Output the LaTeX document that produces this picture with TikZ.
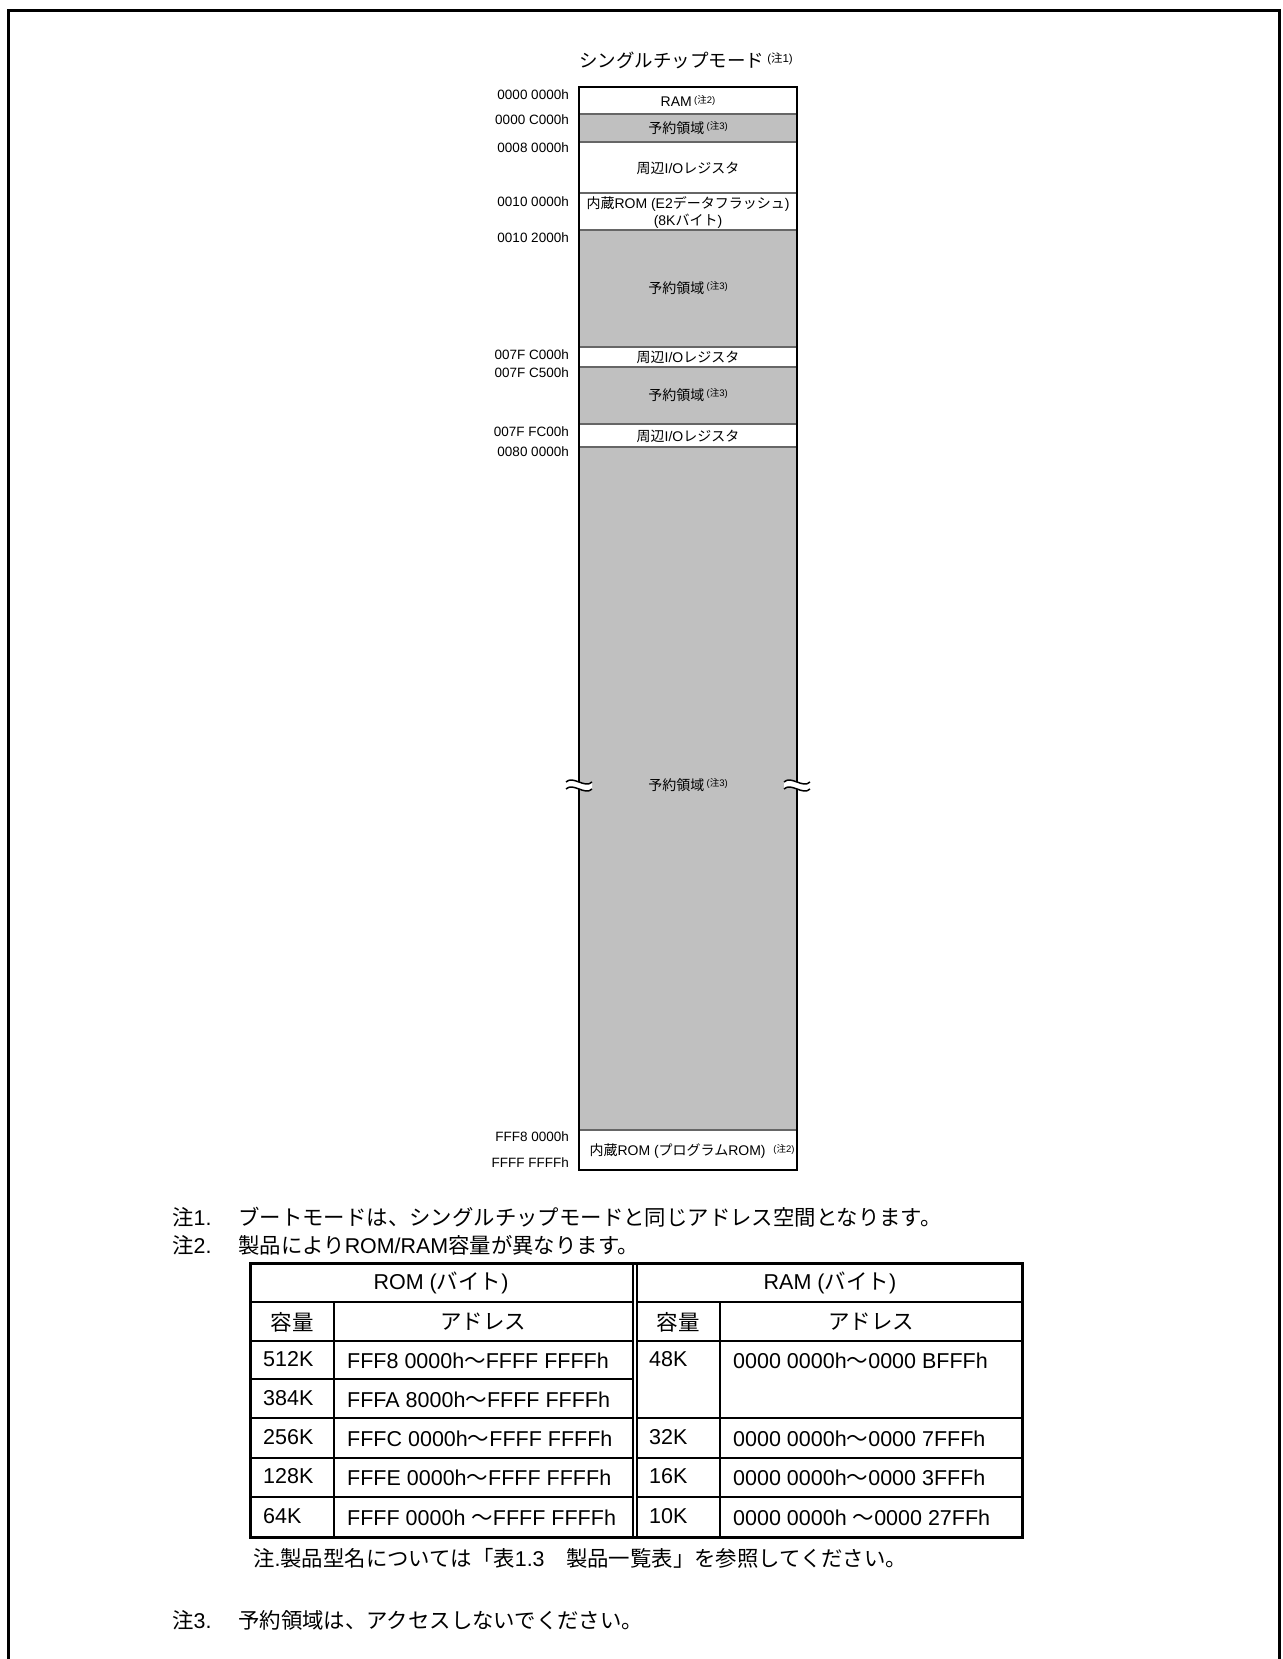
\documentclass[tikz,border=0pt]{standalone}
\usepackage{fontspec}
\setmainfont{Liberation Sans}
\newfontfamily\jpfont{Noto Sans CJK JP}
\newfontfamily\latfont{Liberation Sans}
\XeTeXinterchartokenstate=1
\chardef\cjkcls=200
\newcount\cjkc
\def\setclassrange#1#2#3{\cjkc=#1\relax
  \loop\XeTeXcharclass\cjkc=#3\relax
  \ifnum\cjkc<#2\relax\advance\cjkc by 1\relax\repeat}
\setclassrange{33}{126}{0}
\setclassrange{"3000}{"30FF}{\cjkcls}
\setclassrange{"4E00}{"9FFF}{\cjkcls}
\setclassrange{"FF00}{"FFEF}{\cjkcls}
\XeTeXinterchartoks 0 \cjkcls = {\jpfont}
\XeTeXinterchartoks 4095 \cjkcls = {\jpfont}
\XeTeXinterchartoks \cjkcls 0 = {\latfont}
\XeTeXinterchartoks \cjkcls 4095 = {\latfont}
\newcommand\chu[2][9.5]{\raisebox{0.45ex}{\latfont\fontsize{#1}{#1}\selectfont(注#2)}}
\definecolor{resv}{RGB}{192,192,192}
\begin{document}
\begin{tikzpicture}[x=1pt,y=-1pt,
  lbl/.style={anchor=east,font=\fontsize{13.5}{16}\selectfont,inner sep=0pt},
  cell/.style={font=\fontsize{14}{17}\selectfont,inner sep=0pt,align=center},
  tb/.style={font=\fontsize{21.5}{24}\selectfont,inner sep=0pt},
  tbl/.style={tb,anchor=west},
  note/.style={anchor=west,font=\fontsize{21.4}{24}\selectfont,inner sep=0pt},
  divline/.style={draw=black!60,line width=1.5pt},
  boxline/.style={line width=2.6pt},
  tin/.style={line width=2pt},
  tdbl/.style={line width=1.2pt}]
\useasboundingbox (0,0) rectangle (1282,1659);
% outer frame
\draw[line width=3pt] (8.5,1660) -- (8.5,10.7) -- (1279.5,10.7) -- (1279.5,1660);
% title
\node[font=\fontsize{18.5}{20}\selectfont,inner sep=0pt] (title) at (686,60) {シングルチップモード\,\chu[11.5]{1}};
% memory regions
\fill[white] (579,87) rectangle (797,114);
\fill[resv] (579,114) rectangle (797,142);
\fill[white] (579,142) rectangle (797,230);
\fill[resv] (579,230) rectangle (797,347);
\fill[white] (579,347) rectangle (797,367);
\fill[resv] (579,367) rectangle (797,424);
\fill[white] (579,424) rectangle (797,447);
\fill[resv] (579,447) rectangle (797,1130);
\fill[white] (579,1130) rectangle (797,1170);
\foreach \yy in {114,142,193,230,347,367,424,447,1130}
  \draw[divline] (579,\yy) -- (797,\yy);
\draw[boxline] (579,87) rectangle (797,1170);
% break marks
\foreach \xx/\nm in {579/brkL,797/brkR}{
  \fill[white] (\xx-13,782) .. controls (\xx-6,775) and (\xx+6,789) .. (\xx+13,782)
     -- (\xx+13,789) .. controls (\xx+6,796) and (\xx-6,782) .. (\xx-13,789) -- cycle;
  \draw[line width=1.5pt] (\xx-13,782) .. controls (\xx-6,775) and (\xx+6,789) .. (\xx+13,782);
  \draw[line width=1.5pt] (\xx-13,789) .. controls (\xx-6,782) and (\xx+6,796) .. (\xx+13,789);
  \coordinate (\nm) at (\xx,785);
}
% region texts
\node[cell] (ram) at (688,101) {RAM\,\chu{2}};
\node[cell] (rsv1) at (688,128) {予約領域\,\chu{3}};
\node[cell] (io1) at (688,168) {周辺I/Oレジスタ};
\node[cell] (e2) at (688,212) {内蔵ROM (E2データフラッシュ)\\(8Kバイト)};
\node[cell] (rsv2) at (688,288) {予約領域\,\chu{3}};
\node[cell] (io2) at (688,357) {周辺I/Oレジスタ};
\node[cell] (rsv3) at (688,395) {予約領域\,\chu{3}};
\node[cell] (io3) at (688,436) {周辺I/Oレジスタ};
\node[cell] (rsv4) at (688,785) {予約領域\,\chu{3}};
\node[cell] (prom) at (692,1151) {内蔵ROM (プログラムROM)\ \ \chu{2}};
% address labels
\node[lbl] (a0) at (569,95) {0000 0000h};
\node[lbl] (a1) at (569,120) {0000 C000h};
\node[lbl] (a2) at (569,148) {0008 0000h};
\node[lbl] (a3) at (569,202) {0010 0000h};
\node[lbl] (a4) at (569,238) {0010 2000h};
\node[lbl] (a5) at (569,355) {007F C000h};
\node[lbl] (a6) at (569,373) {007F C500h};
\node[lbl] (a7) at (569,432) {007F FC00h};
\node[lbl] (a8) at (569,452) {0080 0000h};
\node[lbl] (a9) at (569,1137) {FFF8 0000h};
\node[lbl] (a10) at (569,1163) {FFFF FFFFh};
% notes
\node[note] (n1a) at (172,1217) {注1.};
\node[note] (n1b) at (238,1217) {ブートモードは、シングルチップモードと同じアドレス空間となります。};
\node[note] (n2a) at (172,1245) {注2.};
\node[note] (n2b) at (238,1245) {製品によりROM/RAM容量が異なります。};
% table
\draw[line width=3pt] (250,1263) rectangle (1022,1537);
\foreach \yy in {1302,1341,1418,1458,1497}{
  \draw[tin] (250,\yy) -- (633,\yy);
  \draw[tin] (637,\yy) -- (1022,\yy);}
\draw[tin] (250,1379) -- (633,1379);
\draw[tin] (334,1302) -- (334,1537);
\draw[tin] (720,1302) -- (720,1537);
\draw[tdbl] (633,1263) -- (633,1537);
\draw[tdbl] (637,1263) -- (637,1537);
\node[tb] (hrom) at (441,1283) {ROM (バイト)};
\node[tb] (hram) at (830,1283) {RAM (バイト)};
\node[tb] (c1) at (292,1322) {容量};
\node[tb] (c2) at (483,1322) {アドレス};
\node[tb] (c3) at (678,1322) {容量};
\node[tb] (c4) at (871,1322) {アドレス};
\node[tbl] (r1a) at (263,1359) {512K};
\node[tbl] (r1b) at (347,1361) {FFF8 0000h～FFFF FFFFh};
\node[tbl] (r2a) at (263,1398) {384K};
\node[tbl] (r2b) at (347,1400) {FFFA 8000h～FFFF FFFFh};
\node[tbl] (r3a) at (263,1437) {256K};
\node[tbl] (r3b) at (347,1439) {FFFC 0000h～FFFF FFFFh};
\node[tbl] (r4a) at (263,1476) {128K};
\node[tbl] (r4b) at (347,1478) {FFFE 0000h～FFFF FFFFh};
\node[tbl] (r5a) at (263,1516) {64K};
\node[tbl] (r5b) at (347,1518) {FFFF 0000h ～FFFF FFFFh};
\node[tbl] (s1a) at (649,1359) {48K};
\node[tbl] (s1b) at (733,1361) {0000 0000h～0000 BFFFh};
\node[tbl] (s3a) at (649,1437) {32K};
\node[tbl] (s3b) at (733,1439) {0000 0000h～0000 7FFFh};
\node[tbl] (s4a) at (649,1476) {16K};
\node[tbl] (s4b) at (733,1478) {0000 0000h～0000 3FFFh};
\node[tbl] (s5a) at (649,1516) {10K};
\node[tbl] (s5b) at (733,1518) {0000 0000h ～0000 27FFh};
\node[note] (n0) at (253,1558) {注.製品型名については「表1.3　製品一覧表」を参照してください。};
\node[note] (n3a) at (172,1620) {注3.};
\node[note] (n3b) at (238,1620) {予約領域は、アクセスしないでください。};
\end{tikzpicture}
\end{document}
